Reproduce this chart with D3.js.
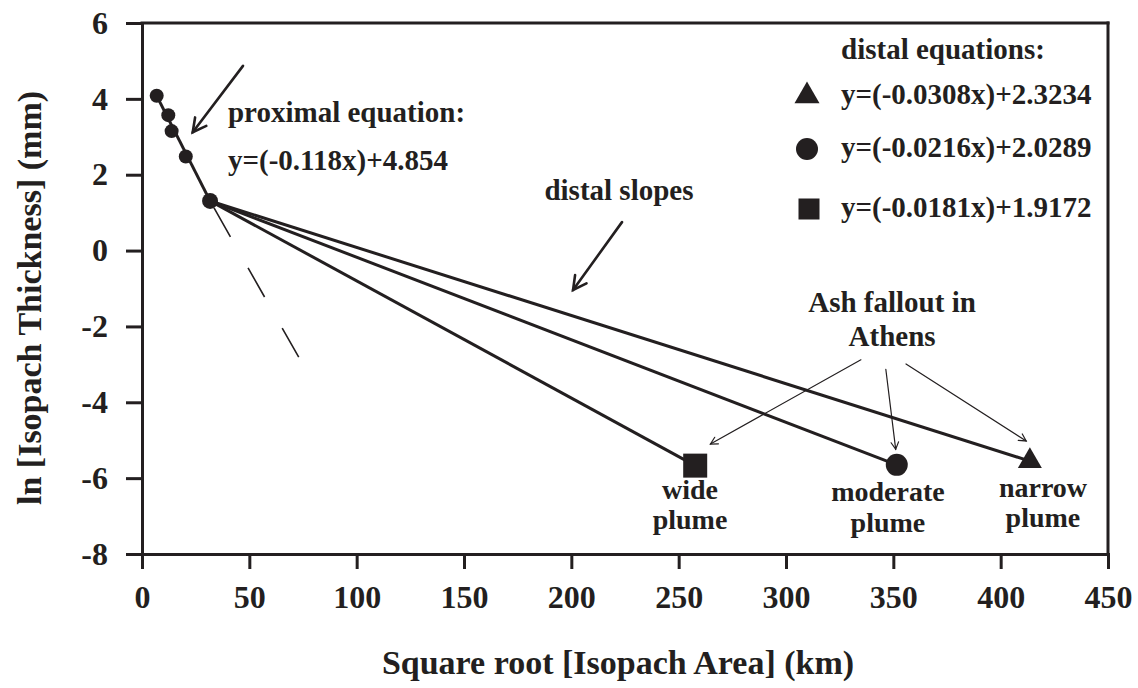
<!DOCTYPE html>
<html>
<head>
<meta charset="utf-8">
<script src="https://cdn.jsdelivr.net/npm/d3@7"></script>
<style>
  html, body { margin: 0; padding: 0; background: #fff; }
  svg text { font-family: "Liberation Serif", "Times New Roman", serif; font-weight: bold; fill: #231f20; }
</style>
</head>
<body>
<svg id="chart" width="1138" height="688"></svg>
<script>
// Axis ticks
const xTicks = [0, 50, 100, 150, 200, 250, 300, 350, 400, 450];
const yTicks = [-8, -6, -4, -2, 0, 2, 4, 6];

// Proximal isopach points: sqrt(area) km vs ln(thickness) mm
const proxX = [6.85, 12.25, 13.8, 20.4, 31.7];
const proxY = [4.08, 3.57, 3.15, 2.48, 1.31];

// Distal end points (ash fallout in Athens) for each plume scenario
const plumeNames = [["wide", "plume"], ["moderate", "plume"], ["narrow", "plume"]];
const plumeSymbols = ["square", "circle", "triangle"];
const plumeX = [257.7, 351.6, 413.6];
const plumeY = [-5.67, -5.65, -5.55];
const plumeLabelX = [255.3, 347.5, 419.7];
const plumeLabelY = [[-6.56, -7.33], [-6.60, -7.43], [-6.50, -7.30]];

// Distal regression equations shown in the legend
const legendSymbols = ["triangle", "circle", "square"];
const legendEquations = ["y=(-0.0308x)+2.3234", "y=(-0.0216x)+2.0289", "y=(-0.0181x)+1.9172"];

// Extension of the proximal trend (dashed)
const dashEndX = 73.3, dashEndY = -2.84;

// Annotation arrows [x1, y1, x2, y2] in data units
const proximalArrow = [47.05, 4.87, 23.62, 3.12];
const distalArrow = [223.6, 0.75, 200.8, -1.04];
const athensArrows = [
  [334.9, -2.88, 264.8, -5.10],
  [346.5, -3.13, 351.1, -5.24],
  [355.9, -2.99, 411.9, -5.02]
];

const ink = "#231f20";
const svg = d3.select("#chart");

const x = d3.scaleLinear().domain([0, 450]).range([142, 1108]);
const y = d3.scaleLinear().domain([-8, 6]).range([554, 23]);

// Frame: top and right borders
svg.append("line")
  .attr("x1", x(0)).attr("x2", x(450)).attr("y1", y(6)).attr("y2", y(6))
  .attr("stroke", ink).attr("stroke-width", 3).attr("stroke-linecap", "square");
svg.append("line")
  .attr("x1", x(450)).attr("x2", x(450)).attr("y1", y(6)).attr("y2", y(-8))
  .attr("stroke", ink).attr("stroke-width", 3).attr("stroke-linecap", "square");

// Axes
const xAxis = svg.append("g")
  .attr("transform", `translate(0,${y(-8)})`)
  .call(d3.axisBottom(x).tickValues(xTicks).tickFormat(d => String(d))
    .tickSize(15).tickSizeOuter(0).tickPadding(16));
const yAxis = svg.append("g")
  .attr("transform", `translate(${x(0)},0)`)
  .call(d3.axisLeft(y).tickValues(yTicks).tickFormat(d => String(d))
    .tickSize(16).tickSizeOuter(0).tickPadding(18));

[xAxis, yAxis].forEach(g => {
  g.select(".domain").attr("stroke", ink).attr("stroke-width", 3).attr("stroke-linecap", "square");
  g.selectAll(".tick line").attr("stroke", ink).attr("stroke-width", 3);
  g.selectAll(".tick text").style("font-size", "32px");
});

// Axis titles
svg.append("text")
  .attr("x", 618).attr("y", 674)
  .attr("text-anchor", "middle")
  .style("font-size", "34px")
  .text("Square root [Isopach Area] (km)");
svg.append("text")
  .attr("transform", "translate(41,298) rotate(-90)")
  .attr("text-anchor", "middle")
  .style("font-size", "34px")
  .text("ln [Isopach Thickness] (mm)");

// Dashed extension of proximal trend
const p5 = [x(proxX[4]), y(proxY[4])];
const pe = [x(dashEndX), y(dashEndY)];
svg.append("line")
  .attr("x1", p5[0]).attr("y1", p5[1]).attr("x2", pe[0]).attr("y2", pe[1])
  .attr("stroke", ink).attr("stroke-width", 1.6)
  .attr("stroke-dasharray", "33.5,35.7")
  .attr("stroke-dashoffset", 61.4);

// Proximal fit segment
svg.append("line")
  .attr("x1", x(proxX[0])).attr("y1", y(proxY[0]))
  .attr("x2", x(proxX[4])).attr("y2", y(proxY[4]))
  .attr("stroke", ink).attr("stroke-width", 3);

// Distal slopes from last proximal point to each Athens point
plumeX.forEach((px, i) => {
  svg.append("line")
    .attr("x1", p5[0]).attr("y1", p5[1])
    .attr("x2", x(px)).attr("y2", y(plumeY[i]))
    .attr("stroke", ink).attr("stroke-width", 3);
});

// Proximal points
svg.selectAll("circle.prox")
  .data(proxX.map((d, i) => [d, proxY[i], i]))
  .join("circle")
  .attr("class", "prox")
  .attr("cx", d => x(d[0])).attr("cy", d => y(d[1]))
  .attr("r", d => d[2] === 4 ? 8 : 7)
  .attr("fill", ink);

// Symbol drawer
function drawSymbol(g, type, cx, cy, s) {
  if (type === "circle") {
    g.append("circle").attr("cx", cx).attr("cy", cy).attr("r", s / 2).attr("fill", ink);
  } else if (type === "square") {
    g.append("rect").attr("x", cx - s / 2).attr("y", cy - s / 2)
      .attr("width", s).attr("height", s).attr("fill", ink);
  } else {
    const area = Math.sqrt(3) / 4 * s * s;
    g.append("path")
      .attr("d", d3.symbol().type(d3.symbolTriangle).size(area)())
      .attr("transform", `translate(${cx},${cy})`)
      .attr("fill", ink);
  }
}

// Athens markers and their labels
plumeX.forEach((px, i) => {
  const sz = plumeSymbols[i] === "circle" ? 22 : 24;
  drawSymbol(svg, plumeSymbols[i], x(px), y(plumeY[i]), sz);
  plumeNames[i].forEach((w, j) => {
    svg.append("text")
      .attr("x", x(plumeLabelX[i])).attr("y", y(plumeLabelY[i][j]))
      .attr("text-anchor", "middle")
      .style("font-size", "28px")
      .text(w);
  });
});

// Arrow helper: shaft plus open V head at the end point
function arrow(a, width, head, angleDeg) {
  const x1 = x(a[0]), y1 = y(a[1]), x2 = x(a[2]), y2 = y(a[3]);
  const ang = Math.atan2(y2 - y1, x2 - x1);
  const t = angleDeg * Math.PI / 180;
  const g = svg.append("g").attr("stroke", ink).attr("stroke-width", width)
    .attr("fill", "none").attr("stroke-linecap", "round");
  g.append("line").attr("x1", x1).attr("y1", y1).attr("x2", x2).attr("y2", y2);
  g.append("path").attr("d",
    `M${x2 - head * Math.cos(ang - t)},${y2 - head * Math.sin(ang - t)}` +
    `L${x2},${y2}` +
    `L${x2 - head * Math.cos(ang + t)},${y2 - head * Math.sin(ang + t)}`);
}

arrow(proximalArrow, 2.6, 15, 28);
arrow(distalArrow, 2.6, 15, 28);
athensArrows.forEach(a => arrow(a, 1.2, 8, 28));

// Text annotations
svg.append("text").attr("x", x(40.06)).attr("y", y(3.39))
  .style("font-size", "29px").text("proximal equation:");
svg.append("text").attr("x", x(40.06)).attr("y", y(2.12))
  .style("font-size", "29px").text("y=(-0.118x)+4.854");
svg.append("text").attr("x", x(222.2)).attr("y", y(1.33))
  .attr("text-anchor", "middle").style("font-size", "29px").text("distal slopes");
svg.append("text").attr("x", x(349.4)).attr("y", y(-1.63))
  .attr("text-anchor", "middle").style("font-size", "29px").text("Ash fallout in");
svg.append("text").attr("x", x(349.4)).attr("y", y(-2.51))
  .attr("text-anchor", "middle").style("font-size", "29px").text("Athens");

// Legend
const legend = svg.append("g").attr("transform", "translate(807,0)");
legend.append("text").attr("x", 34).attr("y", 59)
  .style("font-size", "29px").text("distal equations:");
const legendRowY = [96, 149, 209];
const legendTextY = [104, 157, 217];
legendSymbols.forEach((s, i) => {
  drawSymbol(legend, s, s === "square" ? 2 : 0, legendRowY[i], s === "square" ? 21 : (s === "circle" ? 22 : 25));
  legend.append("text").attr("x", 34).attr("y", legendTextY[i])
    .style("font-size", "29px").text(legendEquations[i]);
});
</script>
</body>
</html>
